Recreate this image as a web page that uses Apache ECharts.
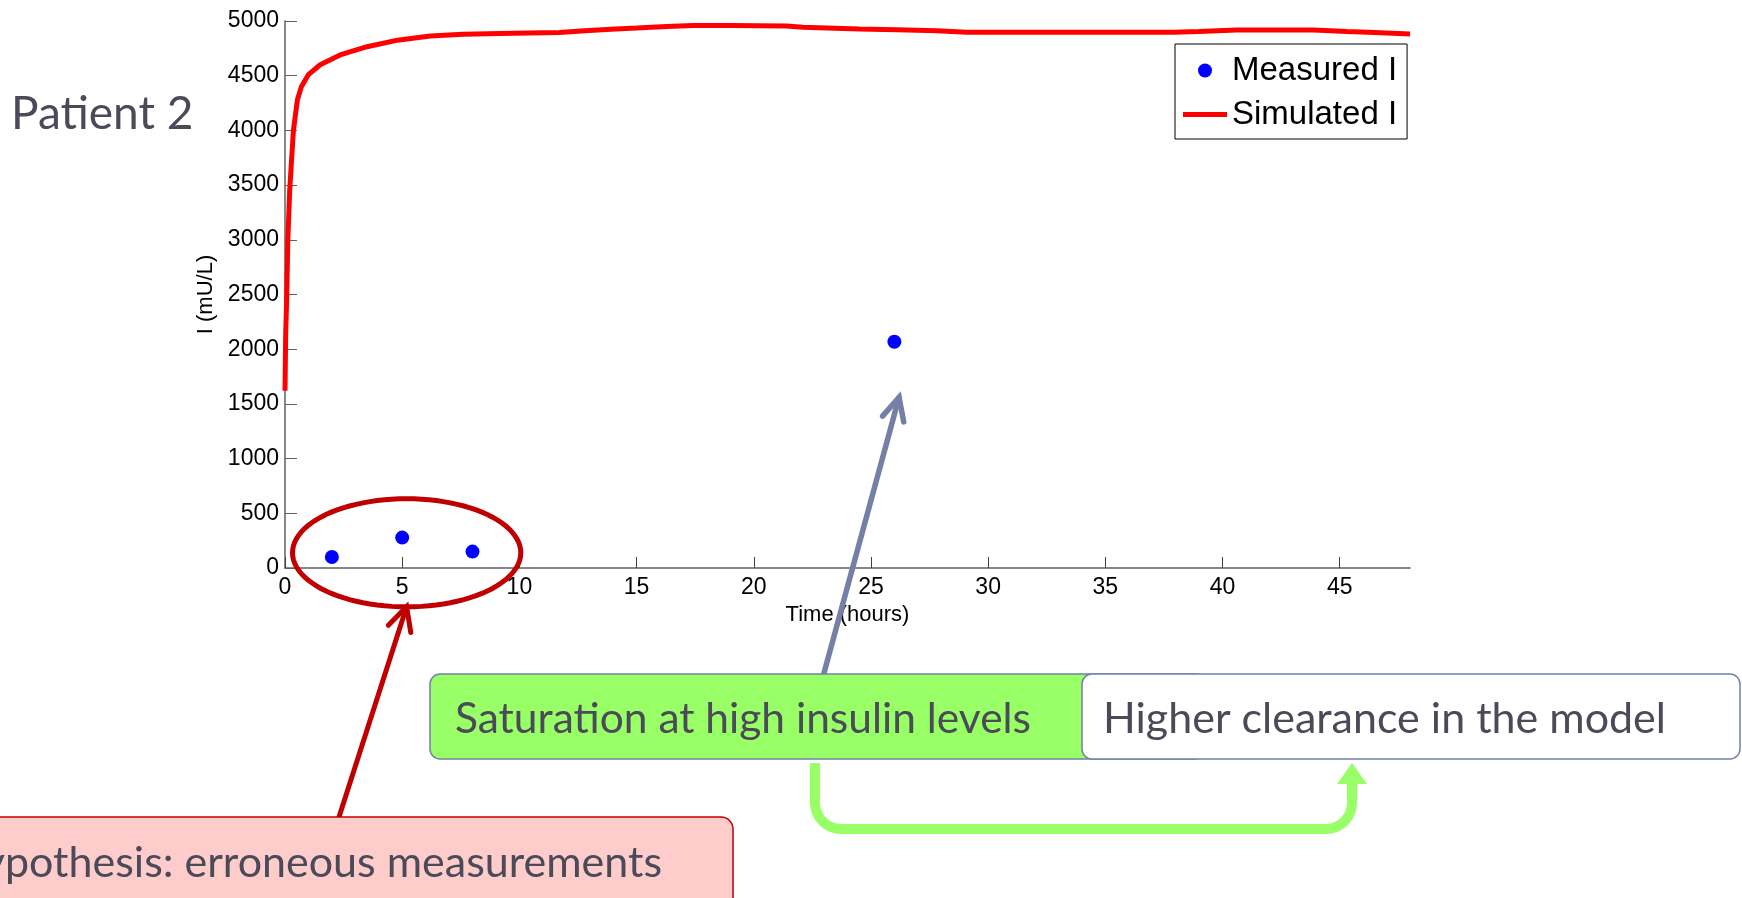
<!DOCTYPE html>
<html>
<head>
<meta charset="utf-8">
<script src="https://cdn.jsdelivr.net/npm/echarts@6/dist/echarts.min.js"></script>
<style>
  html, body { margin: 0; padding: 0; background: #ffffff; }
  #chart { width: 1742px; height: 898px; }
</style>
</head>
<body>
<div id="chart"></div>
<script>
// Simulated plasma insulin (mU/L) over time (hours)
const simTime = [0, 0.03, 0.07, 0.12, 0.2, 0.28, 0.36, 0.45, 0.53, 0.7, 1.0, 1.5, 2.35, 3.5, 4.8, 6.2, 7.6, 9.75, 11.7, 12.8, 13.9, 15.0, 16.3, 17.4, 19.0, 21.4, 22.1, 24.5, 26.1, 27.8, 29.1, 33.0, 37.9, 39.0, 40.6, 43.9, 45.3, 46.5, 48.0];
const simInsulin = [1620, 2150, 2450, 3000, 3450, 3730, 4000, 4150, 4280, 4400, 4510, 4600, 4690, 4765, 4825, 4862, 4878, 4889, 4895, 4910, 4925, 4935, 4950, 4958, 4960, 4955, 4942, 4928, 4920, 4910, 4898, 4897, 4898, 4905, 4918, 4918, 4905, 4895, 4882];

// Measured plasma insulin samples
const measTime = [2, 5, 8, 26];
const measInsulin = [100, 278, 150, 2068];

// Axis ticks
const xTicks = [0, 5, 10, 15, 20, 25, 30, 35, 40, 45];
const yTicks = [0, 500, 1000, 1500, 2000, 2500, 3000, 3500, 4000, 4500, 5000];

const chart = echarts.init(document.getElementById('chart'), null, { renderer: 'canvas' });

const axisFont = '"Liberation Sans", Arial, Helvetica, sans-serif';
const noteFont = 'Lato, "Open Sans", sans-serif';
const noteColor = '#4a4a58';

chart.setOption({
  animation: false,
  backgroundColor: '#ffffff',
  grid: { left: 285, top: 21, right: 332, bottom: 330, containLabel: false },
  legend: {
    left: 1175, top: 44,
    orient: 'vertical',
    padding: [10, 10, 8, 8],
    itemGap: 11,
    itemWidth: 44, itemHeight: 14,
    backgroundColor: '#ffffff',
    borderColor: '#000000', borderWidth: 1, borderRadius: 0,
    textStyle: { fontFamily: axisFont, fontSize: 33, color: '#000000' },
    data: [
      { name: 'Measured I', icon: 'circle' },
      { name: 'Simulated I', icon: 'path://M0,0H44V5H0Z' }
    ]
  },
  xAxis: {
    type: 'value', min: 0, max: 48, interval: 5,
    name: 'Time (hours)', nameLocation: 'middle', nameGap: 31,
    nameTextStyle: { fontFamily: axisFont, fontSize: 22, color: '#000' },
    axisLine: { onZero: false, lineStyle: { color: '#606060', width: 1.5 } },
    axisTick: { inside: true, length: 11, customValues: xTicks, lineStyle: { color: '#404040', width: 1 } },
    axisLabel: { customValues: xTicks, margin: 8, fontFamily: axisFont, fontSize: 23, color: '#000',
                 formatter: (v) => String(v) },
    splitLine: { show: false }
  },
  yAxis: {
    type: 'value', min: 0, max: 5000, interval: 500,
    name: 'I (mU/L)', nameLocation: 'middle', nameGap: 47,
    nameTextStyle: { fontFamily: axisFont, fontSize: 22, color: '#000' },
    axisLine: { show: true, onZero: false, lineStyle: { color: '#606060', width: 1.5 } },
    axisTick: { show: true, inside: true, length: 12, customValues: yTicks, lineStyle: { color: '#606060', width: 1 } },
    axisLabel: { customValues: yTicks, margin: 6, fontFamily: axisFont, fontSize: 23, color: '#000',
                 formatter: (v) => String(v) },
    splitLine: { show: false }
  },
  series: [
    {
      name: 'Measured I',
      type: 'scatter',
      symbol: 'circle', symbolSize: 14,
      itemStyle: { color: '#0000ff', opacity: 1 },
      data: measTime.map((t, i) => [t, measInsulin[i]]),
      z: 3
    },
    {
      name: 'Simulated I',
      type: 'line',
      symbol: 'none',
      smooth: false,
      lineStyle: { color: '#ff0000', width: 5 },
      itemStyle: { color: '#ff0000' },
      data: simTime.map((t, i) => [t, simInsulin[i]]),
      z: 2
    }
  ]
});

// ---- Annotations ----
const toPx = (t, v) => chart.convertToPixel({ gridIndex: 0 }, [t, v]);

// open chevron arrow head at tip, arms pointing back toward the tail
function chevron(tail, tip, len, deg) {
  const dx = tail[0] - tip[0], dy = tail[1] - tip[1];
  const d = Math.hypot(dx, dy);
  const ux = dx / d, uy = dy / d;
  const a = deg * Math.PI / 180;
  const rot = (s) => [tip[0] + len * (ux * Math.cos(s) - uy * Math.sin(s)),
                      tip[1] + len * (ux * Math.sin(s) + uy * Math.cos(s))];
  return [rot(a), tip, rot(-a)];
}

// ellipse around the early samples, defined in data space
const ellC = [5.19, 139], ellRx = 4.87, ellRy = 494;
const ellPts = [];
for (let k = 0; k < 96; k++) {
  const th = 2 * Math.PI * k / 96;
  ellPts.push(toPx(ellC[0] + ellRx * Math.cos(th), ellC[1] + ellRy * Math.sin(th)));
}

const redTail = [339, 817];
const redTip = toPx(ellC[0], ellC[1] - ellRy);
const grayTail = [824, 673];
const grayTip = toPx(26.2, 1560);

// elbow connector between the two hypotheses
function elbow(x0, y0, yMid, x1, yEnd, r) {
  const pts = [[x0, y0], [x0, yMid - r]];
  for (let k = 1; k <= 8; k++) {
    const th = Math.PI - (Math.PI / 2) * k / 8;
    pts.push([x0 + r + r * Math.cos(th), yMid - r + r * Math.sin(th)]);
  }
  pts.push([x1 - r, yMid]);
  for (let k = 1; k <= 8; k++) {
    const th = Math.PI / 2 - (Math.PI / 2) * k / 8;
    pts.push([x1 - r + r * Math.cos(th), yMid - r + r * Math.sin(th)]);
  }
  pts.push([x1, yEnd]);
  return pts;
}
const greenPts = elbow(815, 763, 829, 1352, 782, 26);

chart.setOption({
  graphic: { elements: [
    { type: 'text', left: 11, top: 91, z: 50,
      style: { text: 'Patient 2', font: '46px ' + noteFont, fill: noteColor } },

    { type: 'polygon', z: 60, shape: { points: ellPts },
      style: { fill: 'none', stroke: '#c00000', lineWidth: 5 } },

    { type: 'polyline', z: 60, shape: { points: [redTail, redTip] },
      style: { stroke: '#c00000', lineWidth: 5, lineCap: 'round' } },
    { type: 'polyline', z: 60, shape: { points: chevron(redTail, redTip, 26, 27) },
      style: { stroke: '#c00000', lineWidth: 5, lineCap: 'round', lineJoin: 'miter', fill: 'none' } },

    { type: 'polyline', z: 60, shape: { points: [grayTail, grayTip] },
      style: { stroke: '#7580a6', lineWidth: 5.5, lineCap: 'round' } },
    { type: 'polyline', z: 60, shape: { points: chevron(grayTail, grayTip, 25, 26) },
      style: { stroke: '#7580a6', lineWidth: 5.5, lineCap: 'round', lineJoin: 'miter', fill: 'none' } },

    { type: 'rect', z: 70, shape: { x: 430, y: 674, width: 775, height: 85, r: 10 },
      style: { fill: '#99ff66', stroke: '#7480a8', lineWidth: 1.5 } },
    { type: 'rect', z: 71, shape: { x: 1082, y: 674, width: 658, height: 85, r: 10 },
      style: { fill: '#ffffff', stroke: '#7480a8', lineWidth: 1.5 } },
    { type: 'text', z: 72, x: 455, y: 719,
      style: { text: 'Saturation at high insulin levels', font: '42.5px ' + noteFont, fill: noteColor, textAlign: 'left', textVerticalAlign: 'middle' } },
    { type: 'text', z: 72, x: 1103, y: 719,
      style: { text: 'Higher clearance in the model', font: '43px ' + noteFont, fill: noteColor, textAlign: 'left', textVerticalAlign: 'middle' } },

    { type: 'polyline', z: 65, shape: { points: greenPts },
      style: { stroke: '#99ff66', lineWidth: 10, lineJoin: 'round', fill: 'none' } },
    { type: 'polygon', z: 65, shape: { points: [[1337, 784], [1367, 784], [1352, 763]] },
      style: { fill: '#99ff66' } },

    { type: 'rect', z: 70, shape: { x: -30, y: 817, width: 763, height: 110, r: 12 },
      style: { fill: '#ffcccc', stroke: '#c00000', lineWidth: 1.5 } },
    { type: 'text', z: 72, x: 662, y: 863,
      style: { text: 'Hypothesis: erroneous measurements', font: '43px ' + noteFont, fill: noteColor, textAlign: 'right', textVerticalAlign: 'middle' } }
  ] }
});
</script>
</body>
</html>
